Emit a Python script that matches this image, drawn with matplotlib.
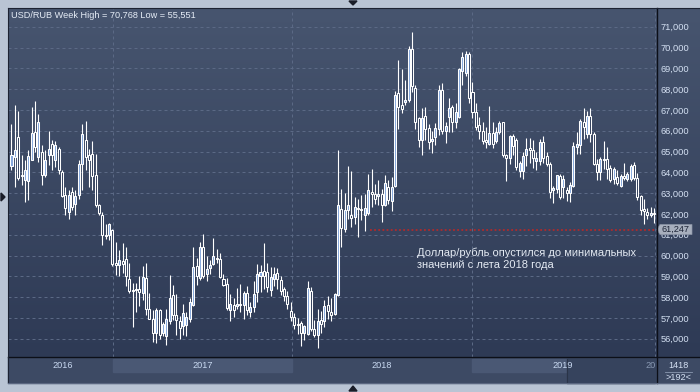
import numpy as np
import matplotlib
matplotlib.use("Agg")
import matplotlib.pyplot as plt
from matplotlib.patches import Rectangle, Polygon
from matplotlib.colors import LinearSegmentedColormap
from matplotlib.transforms import blended_transform_factory, Bbox

plt.rcParams['font.family'] = ['Liberation Sans', 'DejaVu Sans']

# ---------------- data (weekly USD/RUB candles) ----------------
opens = [64.28, 64.73, 65.69, 63.85, 63.61, 63.58, 64.60, 65.93, 64.73, 64.97,
         63.85, 64.81, 65.37, 64.57, 65.13, 64.01, 62.89, 62.09, 63.05, 62.49,
         62.89, 64.38, 65.56, 64.81, 64.89, 63.85, 62.41, 61.93, 61.00, 60.97,
         61.21, 59.64, 59.52, 59.72, 59.83, 58.87, 58.28, 58.33, 58.39, 58.20,
         58.92, 57.44, 56.96, 56.26, 57.37, 56.29, 56.13, 56.85, 58.12, 57.16,
         56.85, 56.60, 56.64, 56.96, 57.64, 59.48, 58.92, 60.40, 59.13, 59.40,
         59.60, 59.88, 59.83, 58.87, 58.65, 57.40, 57.60, 57.56, 57.68, 57.63,
         58.20, 57.28, 57.52, 58.23, 59.00, 59.27, 59.22, 58.36, 58.87, 59.16,
         58.84, 58.39, 58.04, 57.31, 57.04, 56.72, 56.77, 56.29, 56.24, 58.31,
         56.45, 56.19, 56.88, 56.83, 57.60, 57.28, 57.20, 58.10, 62.25, 61.29,
         62.17, 61.93, 61.85, 62.28, 62.25, 61.96, 62.06, 63.05, 62.97, 62.86,
         62.97, 62.44, 63.30, 62.60, 63.33, 67.79, 67.23, 67.39, 67.47, 69.92,
         68.03, 66.59, 65.54, 66.71, 66.14, 65.49, 65.70, 66.10, 67.95, 65.98,
         66.68, 67.16, 66.44, 66.68, 68.88, 68.76, 69.68, 67.88, 66.92, 66.28,
         66.01, 65.53, 65.37, 65.88, 65.49, 65.92, 66.40, 64.85, 64.69, 65.73,
         65.53, 64.05, 64.05, 64.85, 65.17, 65.09, 64.53, 64.53, 65.44, 64.77,
         64.42, 63.17, 63.20, 63.82, 63.27, 63.15, 63.02, 63.34, 65.22, 65.30,
         66.41, 65.82, 66.73, 65.85, 64.42, 64.02, 64.66, 64.66, 64.23, 63.70,
         63.78, 63.34, 63.82, 63.70, 63.70, 64.34, 63.75, 62.86, 62.22, 62.11,
         61.95, 62.03]
highs = [66.33, 67.26, 66.97, 64.81, 64.57, 65.05, 67.16, 67.45, 66.81, 65.29,
         65.05, 66.01, 65.53, 65.50, 65.21, 64.09, 63.29, 63.13, 63.29, 63.13,
         64.57, 66.33, 66.46, 65.13, 65.50, 64.89, 62.49, 62.09, 61.53, 61.56,
         61.29, 60.67, 60.27, 60.60, 60.43, 59.64, 58.68, 58.68, 59.03, 59.50,
         59.64, 58.20, 57.40, 57.48, 57.44, 56.80, 57.44, 59.08, 58.60, 58.17,
         57.08, 57.69, 57.28, 57.96, 60.43, 59.88, 60.67, 61.04, 59.96, 59.80,
         60.83, 60.30, 60.11, 59.13, 58.92, 58.15, 57.95, 58.42, 58.63, 58.31,
         58.55, 57.76, 58.79, 59.59, 59.54, 60.62, 59.63, 59.43, 59.43, 59.38,
         59.03, 58.47, 58.31, 57.75, 57.25, 56.99, 56.83, 56.64, 58.79, 58.47,
         56.88, 57.44, 57.31, 57.88, 58.07, 57.95, 58.20, 65.08, 63.18, 63.02,
         64.31, 64.05, 62.81, 62.70, 62.93, 62.97, 63.90, 64.18, 63.46, 63.62,
         63.21, 63.86, 63.62, 63.78, 67.90, 69.40, 68.99, 68.43, 70.09, 70.77,
         68.19, 66.67, 67.07, 67.15, 66.30, 65.98, 66.35, 68.19, 68.27, 66.43,
         67.56, 67.24, 67.32, 69.00, 69.79, 69.84, 69.79, 68.36, 67.32, 66.68,
         66.44, 66.17, 67.19, 66.44, 66.17, 66.49, 66.44, 64.90, 65.81, 65.85,
         65.65, 64.53, 64.96, 65.65, 65.65, 65.57, 64.96, 65.60, 65.73, 65.00,
         64.48, 63.33, 63.89, 63.91, 63.86, 63.27, 63.54, 65.46, 65.93, 66.57,
         67.10, 66.94, 67.10, 65.93, 64.66, 64.74, 65.50, 65.22, 64.34, 64.26,
         64.10, 63.91, 64.45, 64.02, 64.42, 64.50, 63.97, 62.91, 62.70, 62.27,
         62.32, 62.27]
lows = [64.09, 63.29, 63.61, 63.37, 62.57, 62.65, 64.57, 64.97, 64.49, 63.37,
        63.77, 64.33, 64.09, 64.25, 63.93, 62.81, 61.93, 61.77, 62.17, 61.93,
        62.73, 63.13, 64.09, 63.29, 63.13, 62.33, 61.93, 60.49, 60.81, 60.76,
        59.50, 59.08, 59.00, 59.16, 58.52, 58.20, 56.57, 57.28, 57.56, 57.88,
        57.16, 56.93, 55.84, 55.81, 55.97, 56.13, 55.71, 56.69, 56.89, 56.20,
        56.00, 56.16, 56.13, 56.80, 57.56, 58.60, 58.84, 58.92, 58.76, 59.13,
        59.56, 59.64, 58.92, 58.52, 57.40, 56.83, 57.04, 57.44, 57.28, 56.97,
        57.15, 57.04, 57.28, 57.75, 58.23, 58.39, 58.23, 58.07, 58.55, 58.39,
        58.10, 57.83, 57.44, 56.83, 56.45, 56.24, 55.65, 55.92, 56.16, 56.36,
        56.08, 55.55, 56.29, 56.56, 56.96, 56.83, 57.12, 58.07, 60.40, 61.13,
        61.77, 61.37, 61.53, 60.89, 61.69, 61.16, 61.93, 62.33, 62.49, 62.41,
        61.61, 62.38, 62.49, 62.12, 63.30, 66.10, 66.87, 67.23, 67.36, 67.87,
        66.10, 65.22, 64.85, 65.54, 65.14, 64.95, 65.33, 65.78, 65.82, 65.43,
        65.96, 65.96, 66.12, 66.60, 68.20, 68.63, 67.32, 66.60, 66.04, 65.60,
        65.37, 65.17, 65.33, 65.17, 65.41, 65.85, 64.74, 63.57, 64.42, 64.85,
        64.13, 63.78, 63.68, 64.32, 64.45, 64.21, 64.13, 64.37, 64.45, 64.32,
        62.78, 62.54, 63.00, 62.70, 62.75, 62.64, 62.59, 63.27, 64.87, 64.87,
        65.61, 65.66, 65.46, 64.34, 63.62, 63.62, 64.18, 63.70, 63.54, 63.46,
        63.39, 63.27, 63.62, 63.59, 63.59, 63.62, 62.67, 61.95, 61.52, 61.75,
        61.84, 61.55]
closes = [64.84, 65.08, 63.74, 63.80, 64.09, 64.79, 65.88, 65.21, 66.41, 63.85,
          64.57, 65.13, 64.81, 65.29, 64.09, 62.84, 62.30, 62.92, 62.33, 62.87,
          64.41, 65.82, 64.76, 64.57, 63.80, 62.41, 62.04, 60.97, 60.94, 61.53,
          59.61, 59.55, 59.80, 59.60, 59.00, 58.28, 58.33, 58.39, 58.23, 58.97,
          57.44, 56.96, 56.26, 57.40, 56.16, 56.69, 56.96, 57.96, 57.12, 56.89,
          56.53, 57.24, 57.05, 57.77, 59.44, 59.00, 60.40, 59.03, 59.36, 59.56,
          59.99, 59.83, 58.97, 58.60, 57.48, 57.68, 57.36, 57.68, 57.60, 58.20,
          57.36, 57.52, 58.15, 59.11, 59.19, 59.03, 58.47, 58.95, 59.11, 58.87,
          58.31, 58.04, 57.68, 57.04, 56.67, 56.64, 56.29, 56.61, 58.42, 56.45,
          56.16, 56.83, 56.72, 57.56, 57.31, 57.15, 58.15, 62.45, 61.32, 62.17,
          62.44, 61.80, 62.33, 62.22, 62.17, 62.28, 63.13, 62.97, 62.73, 62.97,
          62.44, 63.50, 62.65, 63.30, 67.74, 67.15, 67.04, 67.47, 69.92, 68.16,
          66.43, 65.54, 66.59, 66.07, 65.46, 65.59, 66.14, 67.95, 65.98, 66.25,
          67.08, 66.44, 66.92, 68.95, 69.55, 69.68, 67.56, 66.92, 66.17, 66.01,
          65.49, 65.44, 65.88, 65.37, 65.92, 66.36, 64.85, 64.69, 65.73, 65.28,
          64.26, 64.45, 64.80, 65.12, 65.09, 64.69, 64.69, 65.44, 64.69, 64.42,
          63.05, 63.25, 63.89, 62.83, 63.70, 63.02, 63.39, 65.25, 65.34, 66.49,
          66.20, 66.73, 65.82, 64.39, 64.02, 64.66, 64.61, 64.18, 63.62, 64.18,
          63.50, 63.82, 63.75, 63.91, 64.29, 63.75, 62.83, 62.19, 62.16, 61.95,
          62.06, 62.00]

year_labels = ["2016", "2017", "2018", "2019", "2020"]
price_ticks = [56, 57, 58, 59, 60, 61, 62, 63, 64, 65, 66, 67, 68, 69, 70, 71]
marker_level = 61.247
title_text = "USD/RUB Week High = 70,768 Low = 55,551"
note_lines = ["Доллар/рубль опустился до минимальных", "значений с лета 2018 года"]
bar_counter = "1418"

# ---------------- layout (pixels of a 700x392 canvas) ----------------
W, H = 700, 392
PL, PT, PR, PB = 8, 8, 657, 357          # plot area
year_starts = [30.2, 83.4, 136.9, 191.2]  # x positions (bar index units) of Jan 1st
year_label_x = [15.3, 56.9, 110.1, 163.9]
line_start = 106.6

o = np.array(opens); h = np.array(highs); l = np.array(lows); c = np.array(closes)
x = np.arange(len(o))

fig = plt.figure(figsize=(7, 3.92), dpi=100)
fig.patch.set_facecolor('#b9c4d4')

# background axes in pixel coordinates
bg = fig.add_axes([0, 0, 1, 1], zorder=0)
grad = np.linspace(0, 1, 256).reshape(-1, 1)
cmap = LinearSegmentedColormap.from_list('g', ['#47556f', '#2e3a55'])
bg.imshow(grad, extent=(PL, W, PB, PT), cmap=cmap, aspect='auto',
          interpolation='bilinear', zorder=0)
bg.add_patch(Rectangle((PL, PB), W - PL, 26, color='#3d4a64', zorder=1))
bg.set_xlim(0, W); bg.set_ylim(H, 0); bg.axis('off')

# main axes
ax = fig.add_axes([PL / W, 1 - PB / H, (PR - PL) / W, (PB - PT) / H], zorder=1)
ax.patch.set_alpha(0)
ax.set_xlim(-1.04, 191.83)
ax.set_ylim(55.12, 71.9)
for s in ax.spines.values():
    s.set_visible(False)
ax.set_xticks([])
ax.set_yticks(price_ticks)
ax.set_yticklabels([f"{v},000" for v in price_ticks])
ax.yaxis.tick_right()
ax.tick_params(axis='y', length=0, pad=2.5, labelsize=6.7, labelcolor='#d4e0f2')
ax.yaxis.grid(True, color='#5b6985', lw=0.72, ls=(0, (3, 3)))
for xs in year_starts:
    ax.axvline(xs, color='#5b6985', lw=0.72, ls=(0, (3, 3)), zorder=1)

# candles
up = c >= o
ax.vlines(x, l, h, colors='white', lw=0.8, zorder=3)
body_lo = np.minimum(o, c)
body_h = np.maximum(np.abs(c - o), 0.02)
ax.bar(x, body_h, bottom=body_lo, width=0.6,
       color=np.where(up, '#86a8dc', '#33405c'),
       edgecolor='white', linewidth=0.75, zorder=4)

# marker line
ax.hlines(marker_level, line_start, year_starts[-1], colors='#b02a2a',
          linestyles=(0, (1, 1.3)), lw=1.3, zorder=2)

# x-axis band (bar index in x, pixel in y)
bt = blended_transform_factory(ax.transData, bg.transData)
bg.add_patch(Rectangle((year_starts[0], 359), year_starts[1] - year_starts[0], 13,
                       transform=bt, color='#4a5874', zorder=2))
bg.add_patch(Rectangle((year_starts[2], 359), 165.0 - year_starts[2], 13,
                       transform=bt, color='#4a5874', zorder=2))
bg.add_patch(Rectangle((165.0, 359), 26.2, 24, transform=bt,
                       color='#36435d', zorder=2))
bg.plot([165.0, 165.0], [359, 383], transform=bt, color='#2a3448', lw=0.8, zorder=3)

# overlay axes in pixel coordinates
ov = fig.add_axes([0, 0, 1, 1], zorder=5)
ov.set_xlim(0, W); ov.set_ylim(H, 0); ov.axis('off')
ov.patch.set_alpha(0)
obt = blended_transform_factory(ax.transData, ov.transData)

for lab, xl in zip(year_labels[:-1], year_label_x):
    ov.text(xl, 365.5, lab, transform=obt, ha='center', va='center',
            fontsize=6.6, color='#c8d8f0')
t = ov.text(PR - 12, 365.5, year_labels[-1], ha='left', va='center',
            fontsize=6.6, color='#8898b2')
t.set_clip_on(True)
t.set_clip_box(Bbox([[PL, H - 383], [PR - 2, H - PB]]))

# frame lines
ov.plot([PL, W], [PB, PB], color='#0c0f18', lw=1.0)
ov.plot([PR, PR], [PT, 383], color='#0c0f18', lw=1.0)
ov.plot([PL, W], [PT, PT], color='#1c2232', lw=0.8)
ov.plot([PL, PL], [PT, 383], color='#1c2232', lw=0.8)
ov.plot([PL, W], [383, 383], color='#5a6680', lw=0.8)

# title
ov.text(11, 15, title_text, ha='left', va='center', fontsize=6.6, color='#e6edf7')

# annotation
for k, ln in enumerate(note_lines):
    ov.text(417, 252.5 + 13 * k, ln, ha='left', va='center', fontsize=8,
            color='#e4eaf3')

# current level label box (covers the 61,000 tick label as in the source)
box = Polygon([(657, 229.5), (660, 224.5), (692, 224.5), (692, 234.5), (660, 234.5)],
              closed=True, facecolor='#a7afbd', edgecolor='#8a93a4', lw=0.5)
ov.add_patch(box)
ov.text(662, 229.8, f"{marker_level:.3f}".replace('.', ','), ha='left', va='center',
        fontsize=6.6, color='#1c2436')

# bottom right counters
ov.text(678, 365, bar_counter, ha='center', va='center', fontsize=6.6, color='#d4e0f2')
ov.plot([665, 692], [371.5, 371.5], color='#8a98b0', lw=0.6)
ov.text(678, 377.5, f">{len(closes)}<", ha='center', va='center', fontsize=6.6,
        color='#d4e0f2')

# small navigation triangles
ov.add_patch(Polygon([(349, 1), (357, 1), (353, 5)], closed=True, color='#1a1d28'))
ov.add_patch(Polygon([(349, 391), (357, 391), (353, 386)], closed=True, color='#1a1d28'))
ov.add_patch(Polygon([(1, 193), (1, 201), (5, 197)], closed=True, color='#1a1d28'))

fig.savefig('out.png', dpi=100, facecolor=fig.get_facecolor())
